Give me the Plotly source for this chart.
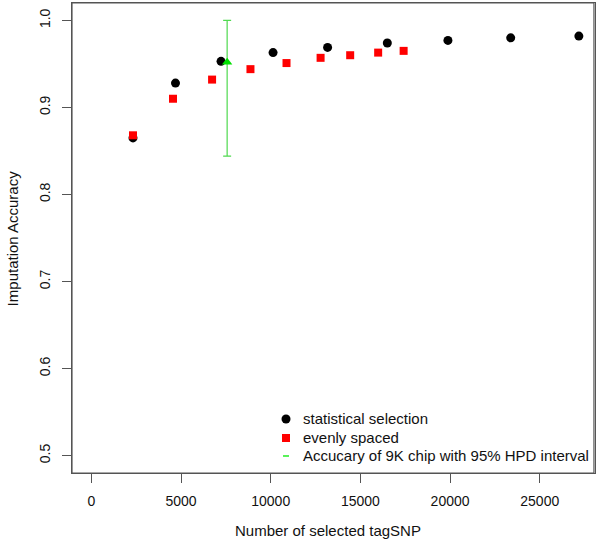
import plotly.graph_objects as go

# Data
stat_x = [2320, 4690, 7230, 10130, 13170, 16500, 19880, 23380, 27180]
stat_y = [0.865, 0.928, 0.953, 0.963, 0.969, 0.974, 0.977, 0.980, 0.982]

even_x = [2320, 4550, 6730, 8870, 10880, 12780, 14430, 15990, 17410]
even_y = [0.868, 0.910, 0.932, 0.944, 0.951, 0.957, 0.960, 0.963, 0.965]

chip_x = [7570]
chip_y = [0.952]
chip_lo = [0.844]
chip_hi = [1.000]

x_ticks = [0, 5000, 10000, 15000, 20000, 25000]
y_ticks = [0.5, 0.6, 0.7, 0.8, 0.9, 1.0]

legend_names = ["statistical selection", "evenly spaced",
                "Accucary of 9K chip with 95% HPD interval"]

FONT = "Liberation Sans, Arial, sans-serif"
GREEN_LINE = "#4fd94f"
TXT = "#111111"
BOX = "#555555"

fig = go.Figure()

fig.add_trace(go.Scatter(
    x=stat_x, y=stat_y, mode="markers", name=legend_names[0],
    marker=dict(symbol="circle", size=9, color="black"),
))
fig.add_trace(go.Scatter(
    x=even_x, y=even_y, mode="markers", name=legend_names[1],
    marker=dict(symbol="square", size=8, color="#ff0000"),
))
fig.add_trace(go.Scatter(
    x=chip_x, y=chip_y, mode="markers", name=legend_names[2],
    marker=dict(symbol="triangle-up", size=9, color="#00e000"),
    error_y=dict(type="data", symmetric=False,
                 array=[h - y for h, y in zip(chip_hi, chip_y)],
                 arrayminus=[y - l for l, y in zip(chip_lo, chip_y)],
                 color=GREEN_LINE, thickness=1.2, width=4),
))

axis_common = dict(
    showline=True, mirror=True, linecolor=BOX, linewidth=1,
    ticks="outside", ticklen=9, tickcolor=BOX, tickwidth=1,
    showgrid=False, zeroline=False,
    tickfont=dict(family=FONT, size=14, color=TXT),
)

# Legend drawn as shapes + text (bottom-right, no box, like the R legend)
leg_x_sym = 0.4092
leg_x_txt = 0.4379
leg_rows = [0.1149, 0.0745, 0.0362]

shapes = [
    dict(type="rect", xref="paper", yref="paper", x0=0, x1=0.998,
         y0=0, y1=1, line=dict(color=BOX, width=1.2), layer="above"),
    dict(type="circle", xref="paper", yref="paper", xsizemode="pixel",
         ysizemode="pixel", xanchor=leg_x_sym, yanchor=leg_rows[0],
         x0=-4.5, x1=4.5, y0=-4.5, y1=4.5,
         fillcolor="black", line=dict(width=0)),
    dict(type="rect", xref="paper", yref="paper", xsizemode="pixel",
         ysizemode="pixel", xanchor=leg_x_sym, yanchor=leg_rows[1],
         x0=-4, x1=4, y0=-4, y1=4,
         fillcolor="#ff0000", line=dict(width=0)),
    dict(type="line", xref="paper", yref="paper", xsizemode="pixel",
         ysizemode="pixel", xanchor=leg_x_sym, yanchor=leg_rows[2],
         x0=-3, x1=3, y0=0, y1=0,
         line=dict(color="#22ee22", width=1.5)),
]

annotations = [
    dict(text=name, xref="paper", yref="paper", x=leg_x_txt, y=row,
         xanchor="left", yanchor="middle", showarrow=False,
         font=dict(family=FONT, size=15, color=TXT))
    for name, row in zip(legend_names, leg_rows)
]
annotations += [
    dict(text="Number of selected tagSNP", xref="paper", yref="paper",
         x=0.49, y=-0.122, xanchor="center", yanchor="middle",
         showarrow=False, font=dict(family=FONT, size=15, color=TXT)),
    dict(text="Imputation Accuracy", xref="paper", yref="paper",
         x=-0.114, y=0.5, xanchor="center", yanchor="middle",
         textangle=-90, showarrow=False,
         font=dict(family=FONT, size=15, color=TXT)),
]

fig.update_layout(
    width=600, height=549,
    margin=dict(l=72, r=5, t=3, b=76, autoexpand=False),
    paper_bgcolor="white", plot_bgcolor="white",
    font=dict(family=FONT, size=14, color=TXT),
    xaxis=dict(range=[-1080, 28080], tickvals=x_ticks,
               ticktext=[str(v) for v in x_ticks],
               ticklabelstandoff=6, **axis_common),
    yaxis=dict(range=[0.48, 1.02], tickvals=y_ticks,
               ticktext=[f"{v:.1f}" for v in y_ticks],
               tickangle=-90, ticklabelstandoff=6, **axis_common),
    showlegend=False,
    shapes=shapes,
    annotations=annotations,
)

fig.write_html("out.html",
               config={"displayModeBar": False},
               post_script="document.body.style.margin='0';")
